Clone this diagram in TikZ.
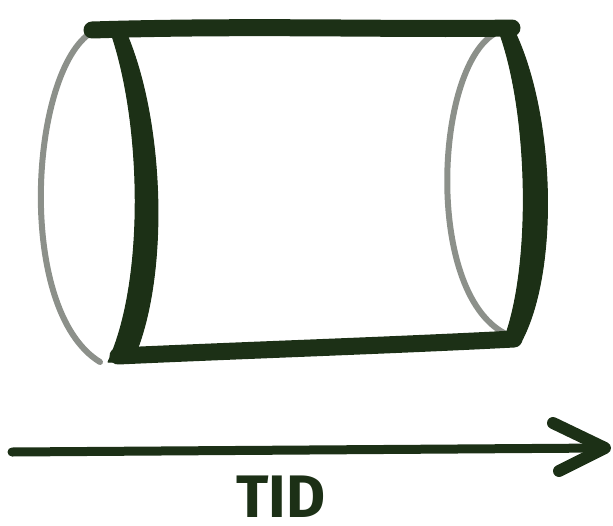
\documentclass[tikz,border=0pt]{standalone}
\usepackage{fontspec}
\newfontfamily\labelfont{Fira Sans}
\definecolor{ink}{RGB}{28,48,22}
\definecolor{pale}{RGB}{140,144,138}
\begin{document}
\begin{tikzpicture}[x=1pt,y=-1pt,
  front ink/.style={fill=ink,draw=ink,line width=1pt,line join=round},
  edge ink/.style={draw=ink,line width=17pt,line cap=round,line join=round},
  back ink/.style={draw=pale,line width=6pt,line cap=round},
  arrow ink/.style={draw=ink,line width=9pt,line cap=round,line join=round}]
\useasboundingbox (0,0) rectangle (613,525);
% back (hidden) halves of the end ellipses
\path[back ink] (92,32) .. controls (30,70) and (15,310) .. (100,362);
\path[back ink] (494,34) .. controls (435,70) and (425,290) .. (504,333);
% front halves (tapered brush strokes)
\path[front ink] (110,30) .. controls (142,120) and (146,280) .. (108,362)
  -- (132,362) .. controls (170,280) and (165,120) .. (125,30) -- cycle;
\path[front ink] (497,26) .. controls (530,110) and (532,270) .. (503,342)
  -- (521,342) .. controls (560,270) and (555,110) .. (512,26) -- cycle;
% top and bottom edges
\path[edge ink] (92,30) .. controls (250,25) and (400,30) .. (512,28);
\path[edge ink] (118,356) .. controls (250,350) and (400,345) .. (514,339);
% time arrow
\coordinate (tail) at (12,452);
\coordinate (tip) at (605,448);
\coordinate (barbA) at (553,423);
\coordinate (barbB) at (559,471);
\path[arrow ink] (tail) -- (tip);
\path[arrow ink,line width=12pt] (barbA) -- (tip) -- (barbB);
\node[text=ink,font=\labelfont\bfseries\fontsize{60}{60}\selectfont,inner sep=0pt] (tid) at (281,497) {TID};
\end{tikzpicture}
\end{document}
